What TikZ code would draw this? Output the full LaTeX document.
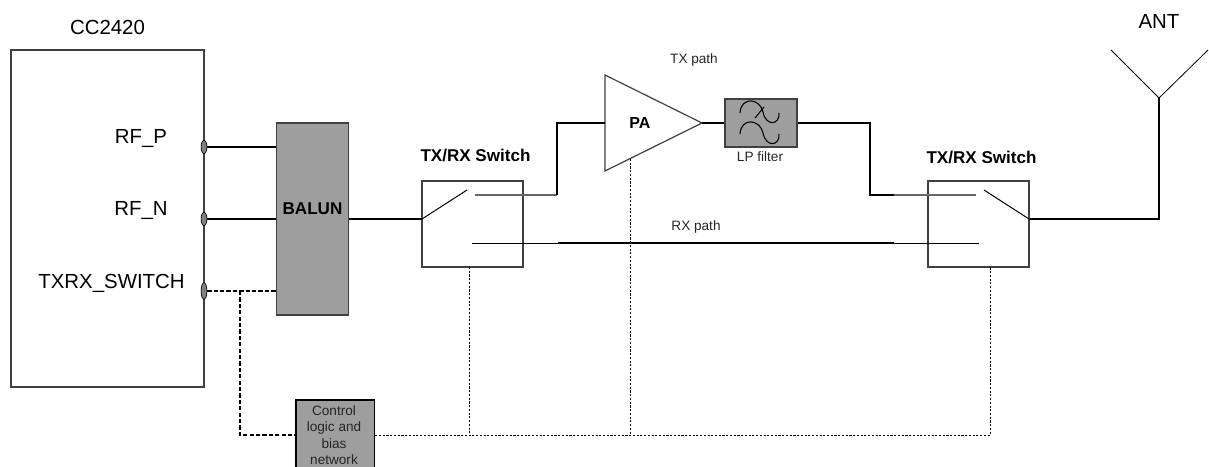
\documentclass[tikz,border=0pt]{standalone}
\usepackage{fontspec}
\setmainfont{Liberation Sans}
\usetikzlibrary{shapes.geometric}
\tikzset{
  x=0.75pt,y=-0.75pt,
  box/.style={draw=black!75,line width=0.9pt,inner sep=0pt,fill=white},
  graybox/.style={box,fill=black!38},
  lbl/.style={inner sep=0pt,font=\fontsize{15.3pt}{18pt}\selectfont},
  blbl/.style={inner sep=0pt,font=\fontsize{12.8pt}{15pt}\selectfont\bfseries},
  small/.style={inner sep=0pt,align=center,font=\fontsize{10.2pt}{12.4pt}\selectfont,text=black!85},
  wire/.style={line width=1.4pt},
  thin wire/.style={line width=0.75pt},
  gray wire/.style={line width=1pt,draw=black!60},
  ctl/.style={line width=1.2pt,dash pattern=on 3.2pt off 1.6pt},
  dots/.style={line width=0.6pt,dash pattern=on 1.6pt off 1.2pt},
  pad/.style={draw=black,fill=black!50,line width=0.5pt,ellipse,inner sep=0pt,minimum width=4.4pt,minimum height=10pt},
}
\begin{document}
\begin{tikzpicture}
\useasboundingbox (0,0) rectangle (1209,467);
\node[box,minimum width=193*0.75pt,minimum height=337*0.75pt] (chip) at (107.5,218.5) {};
\node[lbl] (chiplabel) at (107.5,27.5) {CC2420};
\node[lbl] (rfp) at (141,139) {RF\_P};
\node[lbl] (rfn) at (141,211) {RF\_N};
\node[lbl] (txrx) at (111.5,283) {TXRX\_SWITCH};
\node[pad] (p1) at (204,147) {};
\node[pad] (p2) at (204,219) {};
\node[pad,minimum height=12.5pt] (p3) at (204,291) {};
\node[graybox,minimum width=72.5*0.75pt,minimum height=192*0.75pt] (balun) at (312.5,219) {};
\node[blbl] (balunl) at (312.5,208.5) {BALUN};
\node[graybox,draw=black,line width=1.3pt,minimum width=78.5*0.75pt,minimum height=72*0.75pt,anchor=north west] (ctrl) at (295,399) {};
\node[small] (ctrltxt) at (334,435) {Control\\logic and\\bias\\network};
\node[box,minimum width=101*0.75pt,minimum height=86*0.75pt] (sw1) at (472.5,224) {};
\node[blbl] (sw1l) at (475.5,155.5) {TX/RX Switch};
\node[box,minimum width=101*0.75pt,minimum height=86*0.75pt] (sw2) at (978.5,224) {};
\node[blbl] (sw2l) at (981.5,157) {TX/RX Switch};
\draw[box] (605,75) coordinate (pat) -- (702,123) coordinate (pao) -- (605,171) coordinate (pab) -- cycle;
\coordinate (pai) at (605,123);
\node[blbl,font=\fontsize{12pt}{14pt}\selectfont\bfseries] (pal) at (640,122.5) {PA};
\node[graybox,minimum width=72*0.75pt,minimum height=48*0.75pt] (lp) at (761,123) {};
\draw[line width=0.8pt] (740,113) .. controls (741,96) and (760,98) .. (763,112) .. controls (766,127) and (780,125) .. (779,113);
\draw[line width=0.8pt] (740,134) .. controls (741,117) and (760,119) .. (763,133) .. controls (766,148) and (780,146) .. (779,134);
\draw[line width=0.8pt] (755,118) -- (764,107);
\node[small] (lpl) at (760,156.5) {LP filter};
\node[small] (txp) at (694,60) {TX path};
\node[small] (rxp) at (696,227) {RX path};
\node[lbl] (ant) at (1159,21) {ANT};
% connectors
\draw[wire] (p1) -- (p1-|balun.west);
\draw[wire] (p2) -- (p2-|balun.west);
\draw[ctl] (p3) -- (p3-|balun.west);
\coordinate (cj) at (240,291);
\coordinate (cy) at (240,435);
\draw[ctl] (cj) -- (cy) -- (cy-|ctrl.west);
\coordinate (s1in) at (422,219);
\draw[wire] (s1in-|balun.east) -- (s1in);
\coordinate (s1l) at (467,190);
\draw[thin wire] (s1in) -- (s1l);
\coordinate (s1t) at (475,195);
\coordinate (s1b) at (472,243);
\coordinate (bend1) at (557,195);
\draw[gray wire] (s1t) -- (bend1);
\draw[wire] (bend1) -- (bend1|-pai) -- (pai);
\draw[wire] (pao) -- (lp.west);
\coordinate (bend2) at (870,195);
\draw[wire] (lp.east) -- (bend2|-lp.east) -- (bend2) -- (894,195);
\coordinate (s2t) at (976,195);
\draw[gray wire] (894,195) -- (s2t);
\coordinate (s2b) at (979,243);
\coordinate (rx1) at (558,243);
\coordinate (rx2) at (894,243);
\draw[thin wire] (s1b) -- (rx1);
\draw[line width=1.2pt] (rx1) -- (rx2);
\draw[thin wire] (rx2) -- (s2b);
\coordinate (s2out) at (1029,219);
\coordinate (s2l) at (984,190);
\draw[thin wire] (s2out) -- (s2l);
\coordinate (antj) at (1159,98);
\draw[wire] (s2out) -- (antj|-s2out) -- (antj);
\coordinate (antl) at (1111,50);
\coordinate (antr) at (1208,50);
\draw[line width=0.6pt] (antl) -- (antj) -- (antr);
\coordinate (d1) at (469,267);
\coordinate (d2) at (630,159);
\coordinate (d3) at (990,267);
\coordinate (dr) at (990,435);
\draw[dots] (dr-|ctrl.east) -- (dr) -- (d3);
\draw[dots] (d1) -- (d1|-dr);
\draw[dots] (d2) -- (d2|-dr);
\end{tikzpicture}
\end{document}
